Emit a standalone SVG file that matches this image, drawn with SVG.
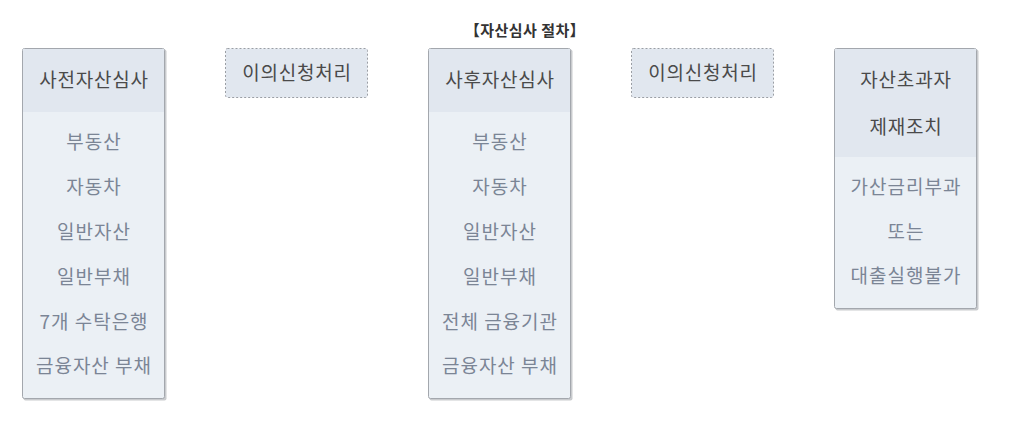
<svg xmlns="http://www.w3.org/2000/svg" width="1024" height="423" viewBox="0 0 1024 423">
<defs>
<style>
.box{fill:#ebf0f5;stroke:#a3a7ad;stroke-width:1}
.hdr{fill:#e1e7ef}
.dash{fill:#e1e7ef;stroke:#9a9ea4;stroke-width:1;stroke-dasharray:2 2}
.shadow{fill:#c9cbce}
text{font-family:"Noto Sans CJK KR","Noto Sans",sans-serif;text-anchor:middle}
.h{font-size:19px;letter-spacing:0.8px;fill:#4a4a4a}
.i{font-size:19px;letter-spacing:1px;fill:#7b8595}
.t{font-size:15px;letter-spacing:0.5px;font-weight:bold;fill:#333}
</style>
</defs>
<rect width="1024" height="423" fill="#ffffff"/>
<text class="t" x="525" y="36">【자산심사 절차】</text>
<g id="connectors"></g>
<g id="pre">
<rect class="shadow" x="23.5" y="49.5" width="143" height="351" rx="2"/>
<rect class="box" x="22.5" y="48.5" width="142" height="350" rx="2"/>
<rect class="hdr" x="23" y="49" width="141" height="63"/>
<text class="h" x="94" y="87">사전자산심사</text>
<text class="i" x="94" y="149">부동산</text>
<text class="i" x="94" y="194">자동차</text>
<text class="i" x="94" y="239">일반자산</text>
<text class="i" x="94" y="284">일반부채</text>
<text class="i" x="94" y="329">7개 수탁은행</text>
<text class="i" x="94" y="373">금융자산 부채</text>
</g>
<g id="appeal1">
<rect class="dash" x="225.5" y="48.5" width="142" height="49" rx="2"/>
<text class="h" x="297" y="80">이의신청처리</text>
</g>
<g id="post">
<rect class="shadow" x="429.5" y="49.5" width="143" height="351" rx="2"/>
<rect class="box" x="428.5" y="48.5" width="142" height="350" rx="2"/>
<rect class="hdr" x="429" y="49" width="141" height="63"/>
<text class="h" x="500" y="87">사후자산심사</text>
<text class="i" x="500" y="149">부동산</text>
<text class="i" x="500" y="194">자동차</text>
<text class="i" x="500" y="239">일반자산</text>
<text class="i" x="500" y="284">일반부채</text>
<text class="i" x="500" y="329">전체 금융기관</text>
<text class="i" x="500" y="373">금융자산 부채</text>
</g>
<g id="appeal2">
<rect class="dash" x="631.5" y="48.5" width="142" height="49" rx="2"/>
<text class="h" x="703" y="80">이의신청처리</text>
</g>
<g id="sanction">
<rect class="shadow" x="835.5" y="49.5" width="143" height="261" rx="2"/>
<rect class="box" x="834.5" y="48.5" width="142" height="260" rx="2"/>
<rect class="hdr" x="835" y="49" width="141" height="108"/>
<text class="h" x="906" y="87">자산초과자</text>
<text class="h" x="906" y="134">제재조치</text>
<text class="i" x="906" y="194">가산금리부과</text>
<text class="i" x="906" y="239">또는</text>
<text class="i" x="906" y="283">대출실행불가</text>
</g>
</svg>
